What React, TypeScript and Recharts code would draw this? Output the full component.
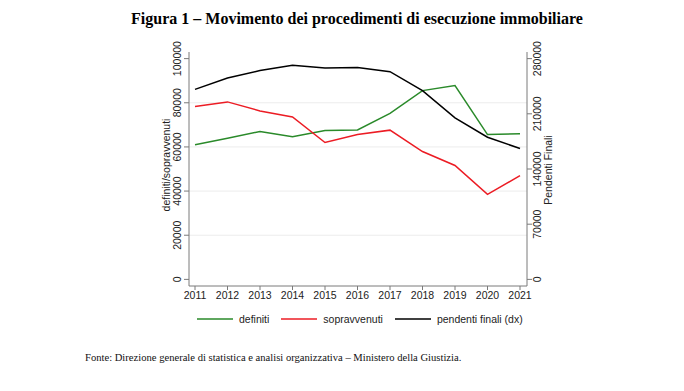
import { CartesianGrid, Line, LineChart, XAxis, YAxis } from "recharts";

const years = [2011, 2012, 2013, 2014, 2015, 2016, 2017, 2018, 2019, 2020, 2021];
const definiti = [61000, 63900, 67000, 64600, 67400, 67700, 75200, 85500, 87800, 65600, 66000];
const sopravvenuti = [78300, 80400, 76300, 73600, 62000, 65600, 67600, 57900, 51600, 38500, 47000];
const pendentiFinali = [241000, 255500, 264800, 271500, 268200, 268600, 263500, 239500, 204900, 180300, 166000];

const leftTicks = [0, 20000, 40000, 60000, 80000, 100000];
const rightTicks = [0, 70000, 140000, 210000, 280000];

const chartData = years.map((y, i) => ({
  year: y,
  definiti: definiti[i],
  sopravvenuti: sopravvenuti[i],
  pendenti: pendentiFinali[i],
}));

const SANS = "'Liberation Sans', Arial, Helvetica, sans-serif";
const SERIF = "'Liberation Serif', 'Times New Roman', serif";
const AXIS = "#7a7a7a";
const GREEN = "#2a8a2a";
const RED = "#ec1c24";

function LeftTick({ x, y, payload }: any) {
  return (
    <text
      transform={`translate(${x - 1},${y}) rotate(-90)`}
      textAnchor="middle"
      fontSize={10.5}
      fontFamily={SANS}
      fill="#222"
    >
      {payload.value}
    </text>
  );
}

function RightTick({ x, y, payload }: any) {
  return (
    <text
      transform={`translate(${x + 7},${y}) rotate(-90)`}
      textAnchor="middle"
      fontSize={10.5}
      fontFamily={SANS}
      fill="#222"
    >
      {payload.value}
    </text>
  );
}

function legendItem(color: string, label: string) {
  return (
    <div style={{ display: "flex", alignItems: "center", marginRight: 12 }}>
      <svg width={36} height={4} style={{ marginRight: 6 }}>
        <line x1={0} y1={2} x2={36} y2={2} stroke={color} strokeWidth={1.5} />
      </svg>
      <span>{label}</span>
    </div>
  );
}

export default function App() {
  return (
    <div style={{ position: "absolute", left: 0, top: 0, width: 684, height: 391, background: "#fff" }}>
      <div
        style={{
          position: "absolute",
          top: 10,
          left: 0,
          width: 714,
          textAlign: "center",
          fontFamily: SERIF,
          fontWeight: "bold",
          fontSize: 16,
        }}
      >
        Figura 1 – Movimento dei procedimenti di esecuzione immobiliare
      </div>
      <LineChart
        width={684}
        height={391}
        data={chartData}
        margin={{ top: 52, right: 97, left: 129, bottom: 75 }}
      >
        <CartesianGrid
          yAxisId="left"
          vertical={false}
          stroke="#ececec"
          horizontalValues={[20000, 40000, 60000, 80000]}
        />
        <XAxis
          dataKey="year"
          padding={{ left: 6, right: 7 }}
          height={30}
          axisLine={{ stroke: AXIS }}
          tickLine={{ stroke: AXIS }}
          tickSize={4}
          interval={0}
          tick={{ fontSize: 10.5, fontFamily: SANS, fill: "#222" }}
        />
        <YAxis
          yAxisId="left"
          width={60}
          domain={[-3000, 103000]}
          ticks={leftTicks}
          allowDataOverflow
          axisLine={{ stroke: AXIS }}
          tickLine={{ stroke: AXIS }}
          tickSize={5}
          tick={<LeftTick />}
          label={({ viewBox }: any) => (
            <text
              transform={`translate(170,${viewBox.y + viewBox.height / 2 - 4}) rotate(-90)`}
              textAnchor="middle"
              fontSize={10.5}
              fontFamily={SANS}
              fill="#222"
            >
              definiti/sopravvenuti
            </text>
          )}
        />
        <YAxis
          yAxisId="right"
          orientation="right"
          width={60}
          domain={[-8400, 288400]}
          ticks={rightTicks}
          allowDataOverflow
          axisLine={{ stroke: AXIS }}
          tickLine={{ stroke: AXIS }}
          tickSize={5}
          tick={<RightTick />}
          label={({ viewBox }: any) => (
            <text
              transform={`translate(552,${viewBox.y + viewBox.height / 2 + 1}) rotate(-90)`}
              textAnchor="middle"
              fontSize={10.5}
              fontFamily={SANS}
              fill="#222"
            >
              Pendenti Finali
            </text>
          )}
        />
        <Line yAxisId="left" type="linear" dataKey="definiti" stroke={GREEN} strokeWidth={1.5} dot={false} isAnimationActive={false} />
        <Line yAxisId="left" type="linear" dataKey="sopravvenuti" stroke={RED} strokeWidth={1.5} dot={false} isAnimationActive={false} />
        <Line yAxisId="right" type="linear" dataKey="pendenti" stroke="#000" strokeWidth={1.5} dot={false} isAnimationActive={false} />
      </LineChart>
      <div
        style={{
          position: "absolute",
          top: 313,
          left: 197,
          display: "flex",
          fontFamily: SANS,
          fontSize: 10.5,
          color: "#222",
        }}
      >
        {legendItem(GREEN, "definiti")}
        {legendItem(RED, "sopravvenuti")}
        {legendItem("#000", "pendenti finali (dx)")}
      </div>
      <div
        style={{
          position: "absolute",
          top: 352,
          left: 85,
          fontFamily: SERIF,
          fontSize: 10.6,
          color: "#111",
        }}
      >
        Fonte: Direzione generale di statistica e analisi organizzativa – Ministero della Giustizia.
      </div>
    </div>
  );
}
